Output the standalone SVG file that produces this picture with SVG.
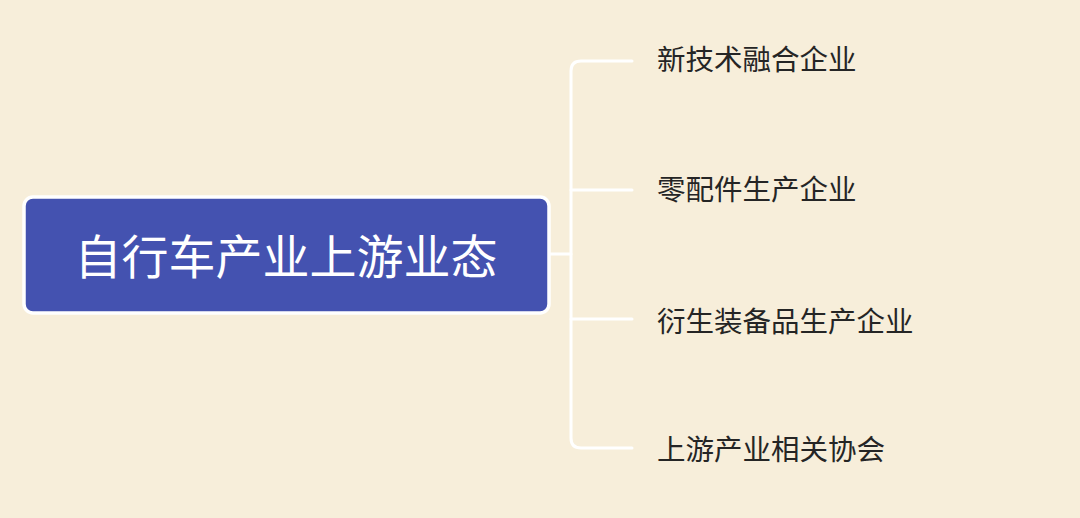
<svg xmlns="http://www.w3.org/2000/svg" width="1080" height="518" viewBox="0 0 1080 518">
<style>
.leaf{font-family:"Noto Sans CJK SC","Noto Sans",sans-serif;font-size:28.5px;fill:#252525;dominant-baseline:central}
.root{font-family:"Noto Sans CJK SC","Noto Sans",sans-serif;font-size:47px;fill:#ffffff;text-anchor:middle;dominant-baseline:central}
.conn{fill:none;stroke:#ffffff;stroke-width:3;stroke-linecap:round}
</style>
<rect x="0" y="0" width="1080" height="518" fill="#F7EEDA"/>
<g id="connectors">
<path class="conn" d="M550 254 H571"/>
<path class="conn" d="M632 61 H581 Q571 61 571 71 V438 Q571 448 581 448 H632"/>
<path class="conn" d="M571 190 H632"/>
<path class="conn" d="M571 319 H632"/>
</g>
<g id="root">
<rect x="24" y="197" width="525" height="116" rx="9" fill="#4452B0" stroke="#ffffff" stroke-width="3.5"/>
<text class="root" x="286" y="253">自行车产业上游业态</text>
</g>
<g id="n1"><text class="leaf" x="657" y="57">新技术融合企业</text></g>
<g id="n2"><text class="leaf" x="657" y="187">零配件生产企业</text></g>
<g id="n3"><text class="leaf" x="657" y="319">衍生装备品生产企业</text></g>
<g id="n4"><text class="leaf" x="657" y="447">上游产业相关协会</text></g>
</svg>
